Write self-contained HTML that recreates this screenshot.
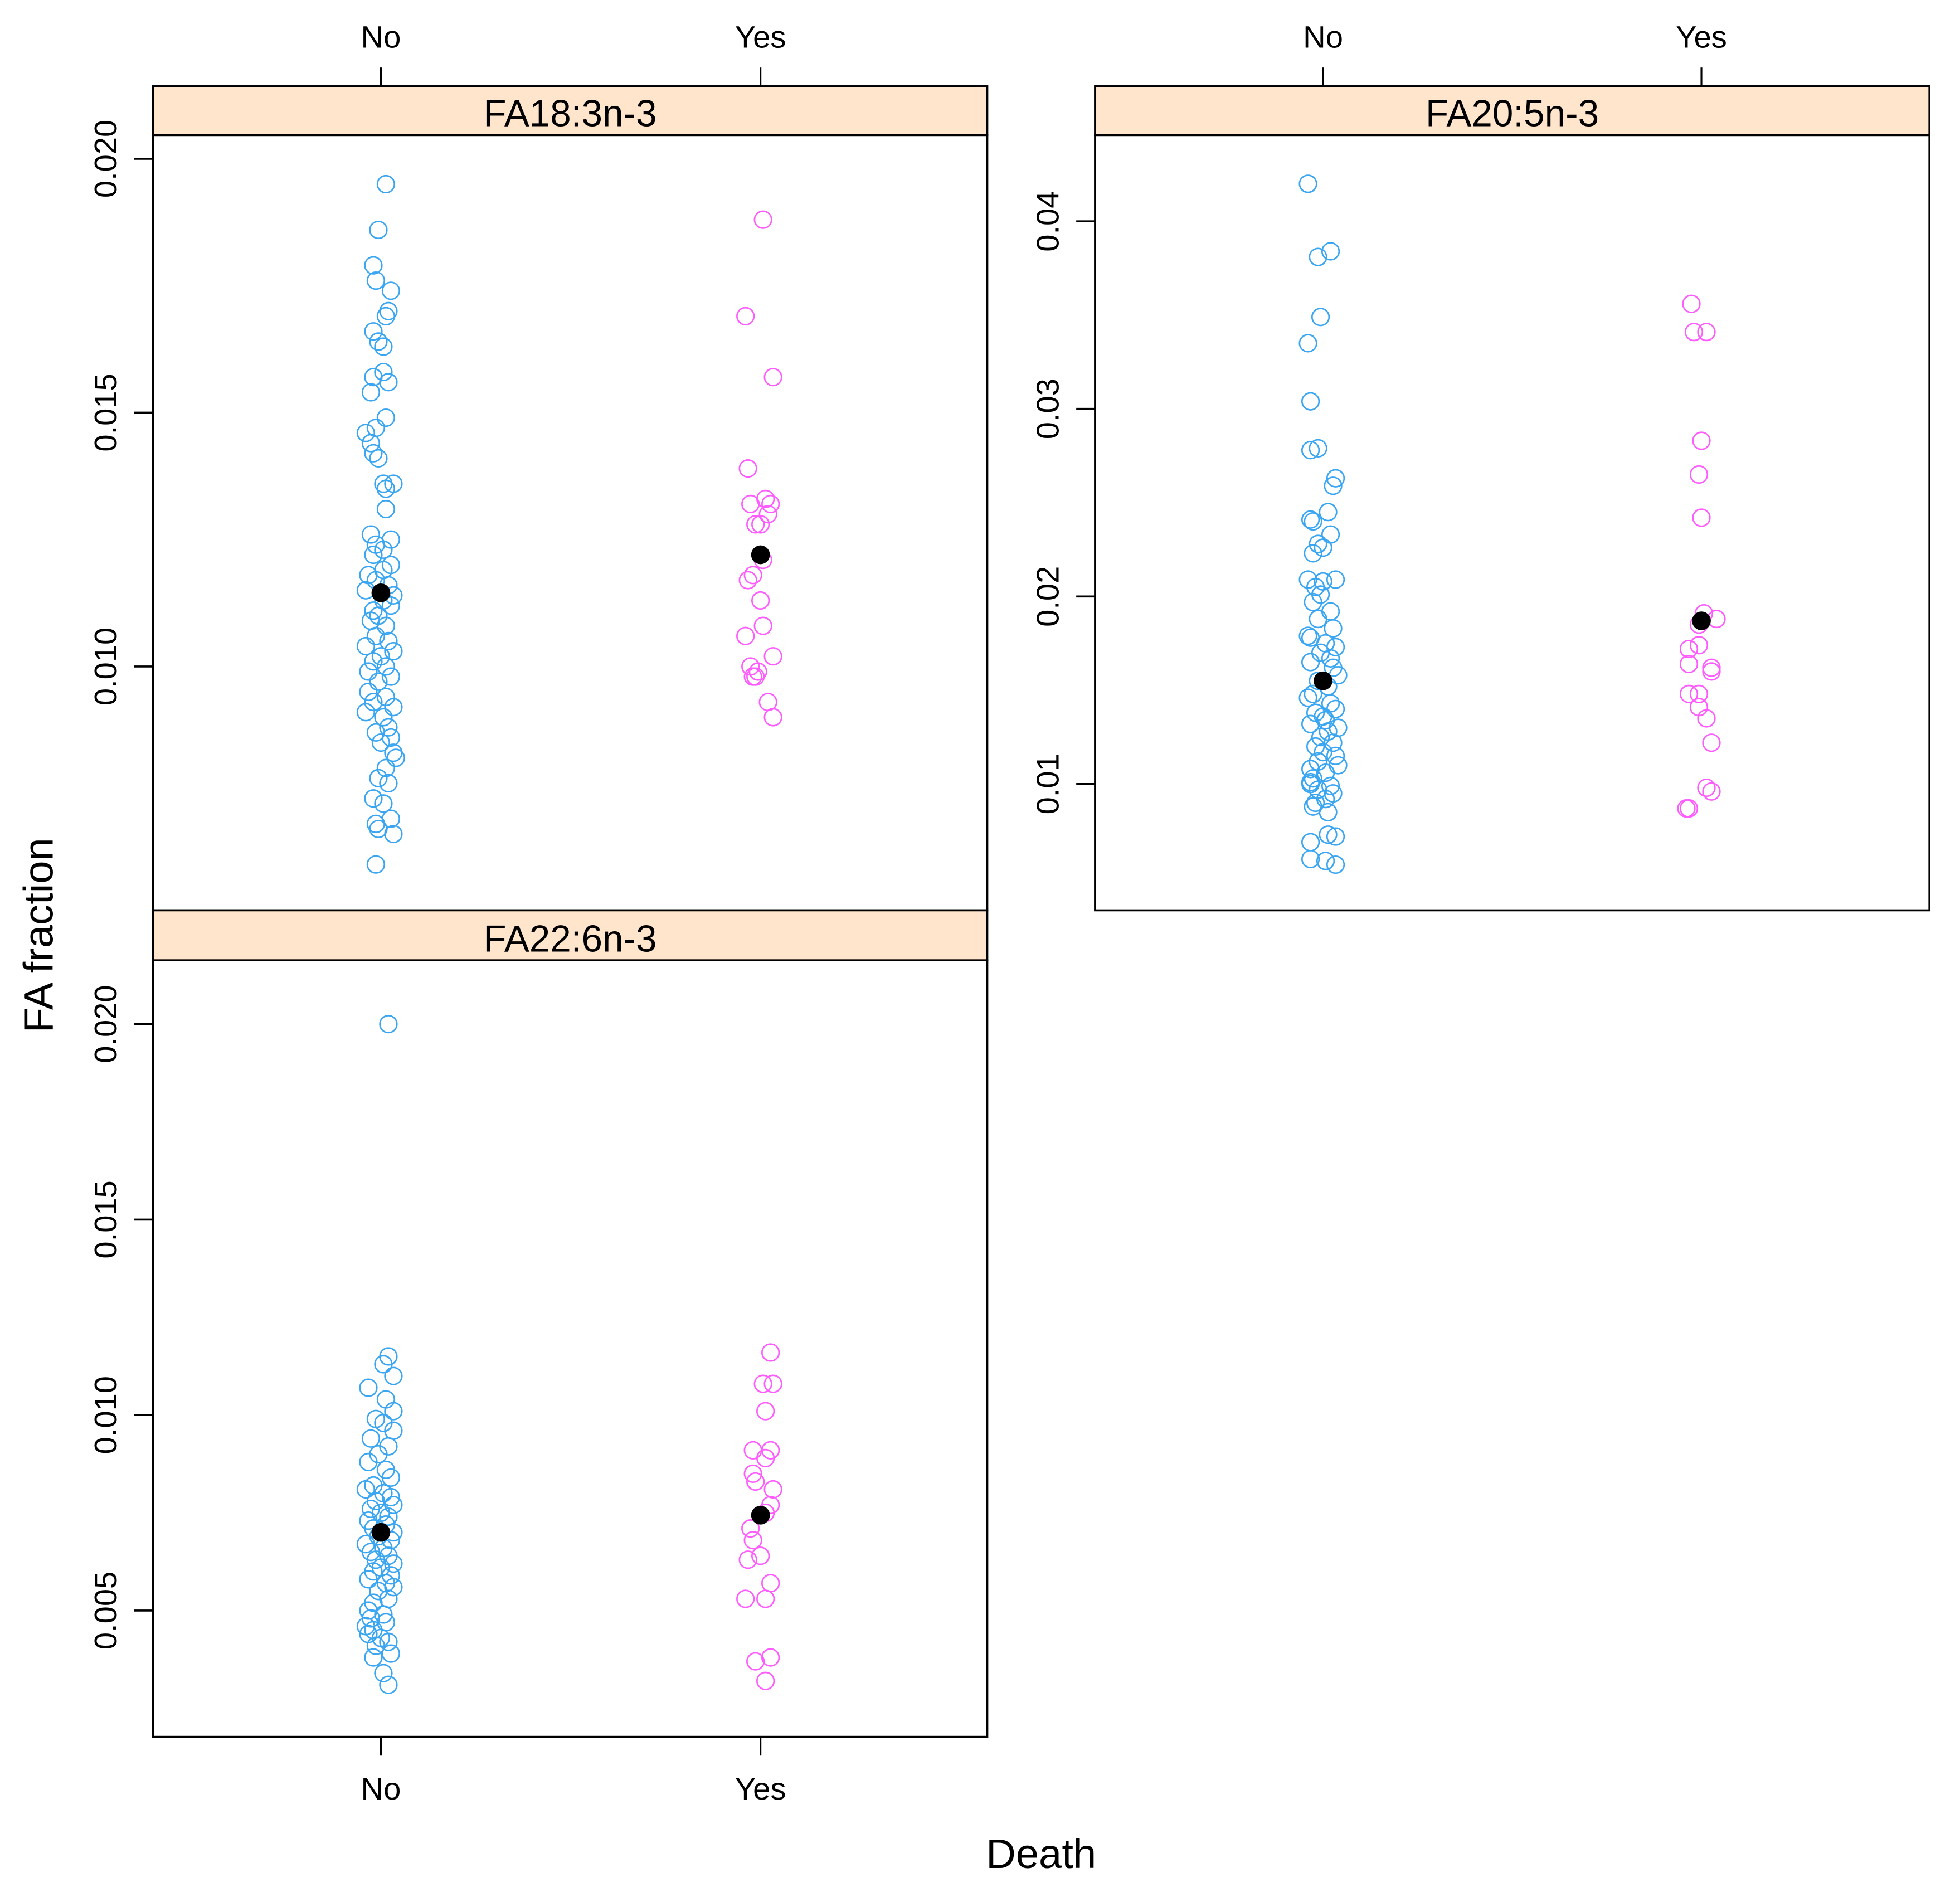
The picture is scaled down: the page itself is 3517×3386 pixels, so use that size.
<!DOCTYPE html>
<html><head><meta charset="utf-8"><style>
html,body{margin:0;padding:0;background:#fff;}
svg{display:block;}
text{font-family:"Liberation Sans",Arial,sans-serif;fill:#000;}
</style></head><body>
<svg id="chart" width="3517" height="3386" viewBox="0 0 1555 1497" preserveAspectRatio="none" xmlns="http://www.w3.org/2000/svg">
<g id="root" transform="scale(0.994,0.992)">
<text x="831" y="1494" font-size="33" text-anchor="middle">Death</text>
<text transform="translate(42,748) rotate(-90)" font-size="33" text-anchor="middle">FA fraction</text>
</g>
</svg>
<script>
const categories = ["No", "Yes"];
const panelTitles = ["FA18:3n-3", "FA20:5n-3", "FA22:6n-3"];
const ticks1 = [0.010, 0.015, 0.020];
const tickLabels1 = ["0.010", "0.015", "0.020"];
const ticks2 = [0.01, 0.02, 0.03, 0.04];
const tickLabels2 = ["0.01", "0.02", "0.03", "0.04"];
const ticks3 = [0.005, 0.010, 0.015, 0.020];
const tickLabels3 = ["0.005", "0.010", "0.015", "0.020"];
const p1No = [0.0195,0.0186,0.0179,0.0176,0.0174,0.0170,0.0169,0.0166,0.0164,0.0163,0.0158,0.0157,0.0156,0.0154,0.0149,0.0147,0.0146,0.0144,0.0142,0.0141,0.0136,0.0136,0.0135,0.0131,0.0126,0.0125,0.0124,0.0123,0.0122,0.0120,0.0119,0.0118,0.0117,0.0116,0.0115,0.0114,0.0113,0.0112,0.0111,0.0110,0.0109,0.0108,0.0106,0.0105,0.0104,0.0103,0.0102,0.0101,0.0100,0.0099,0.0098,0.0097,0.0095,0.0094,0.0093,0.0092,0.0091,0.0090,0.0088,0.0087,0.0086,0.0085,0.0083,0.0082,0.0080,0.0078,0.0077,0.0074,0.0073,0.0070,0.0069,0.0068,0.0067,0.0061];
const p1NoJit = [4,-2,-6,-4,8,6,4,-6,-2,2,2,-6,6,-8,4,-4,-12,-8,-6,-2,2,10,4,4,-8,8,-4,2,-6,8,2,-10,-4,6,-12,10,2,8,-6,-2,-8,4,-4,6,-12,10,0,-6,4,-10,8,-2,-10,4,-6,10,-12,2,6,-4,8,0,10,12,4,-2,6,-6,2,8,-4,-2,10,-4];
const p1Yes = [0.0188,0.0169,0.0157,0.0139,0.0133,0.0132,0.0132,0.0130,0.0128,0.0128,0.0121,0.0118,0.0117,0.0113,0.0108,0.0106,0.0102,0.0100,0.0099,0.0098,0.0098,0.0093,0.0090];
const p1YesJit = [2,-12,10,-10,4,8,-8,6,0,-4,2,-6,-10,0,2,-12,10,-8,-2,-6,-4,6,10];
const p2No = [0.042,0.0384,0.0381,0.0349,0.0335,0.0304,0.0279,0.0278,0.0263,0.0259,0.0245,0.0241,0.0240,0.0233,0.0228,0.0226,0.0223,0.0209,0.0209,0.0208,0.0205,0.0201,0.0197,0.0192,0.0188,0.0183,0.0179,0.0178,0.0175,0.0173,0.0170,0.0167,0.0165,0.0162,0.0158,0.0155,0.0152,0.0148,0.0146,0.0143,0.0140,0.0138,0.0136,0.0134,0.0132,0.0130,0.0128,0.0125,0.0122,0.0120,0.0117,0.0115,0.0112,0.0110,0.0108,0.0106,0.0103,0.0101,0.0100,0.0099,0.0097,0.0095,0.0092,0.0090,0.0088,0.0085,0.0073,0.0072,0.0069,0.0060,0.0059,0.0057];
const p2NoJit = [-12,6,-4,-2,-12,-10,-4,-10,10,8,4,-10,-8,6,-4,0,-8,-12,10,0,-6,-2,-8,6,-4,8,-12,-10,2,10,-2,6,-10,8,12,-4,4,-8,-12,6,10,-6,0,2,-10,12,4,-2,8,-6,0,10,-4,12,-10,2,-8,-10,-10,6,-4,8,2,-6,-8,4,4,10,-10,-10,2,10];
const p2Yes = [0.0356,0.0341,0.0341,0.0283,0.0265,0.0242,0.0191,0.0188,0.0185,0.0174,0.0172,0.0164,0.0162,0.0160,0.0148,0.0148,0.0141,0.0135,0.0122,0.0098,0.0096,0.0087,0.0087];
const p2YesJit = [-8,-6,4,0,-2,0,2,12,-2,-2,-10,-10,8,8,-10,-2,-2,4,8,4,8,-12,-10];
const p3No = [0.0200,0.0115,0.0113,0.0110,0.0107,0.0104,0.0101,0.0099,0.0098,0.0096,0.0094,0.0092,0.0090,0.0088,0.0086,0.0084,0.0082,0.0081,0.0080,0.0079,0.0078,0.0077,0.0076,0.0075,0.0074,0.0073,0.0072,0.0071,0.0070,0.0069,0.0068,0.0067,0.0066,0.0065,0.0064,0.0063,0.0062,0.0061,0.0060,0.0059,0.0058,0.0057,0.0056,0.0055,0.0053,0.0052,0.0050,0.0049,0.0048,0.0047,0.0046,0.0045,0.0044,0.0043,0.0042,0.0041,0.0039,0.0038,0.0034,0.0031];
const p3NoJit = [6,6,2,10,-10,4,10,-4,2,10,-8,6,-2,-10,4,8,-6,-12,2,8,-4,10,-8,0,6,-10,4,-6,10,-2,8,-12,2,-8,6,-4,10,0,-6,8,-10,4,10,-2,6,-6,-10,2,-8,4,-12,-6,-10,0,6,-4,8,-6,2,6];
const p3Yes = [0.0116,0.0108,0.0108,0.0101,0.0091,0.0091,0.0089,0.0085,0.0083,0.0081,0.0077,0.0075,0.0071,0.0068,0.0063,0.0064,0.0057,0.0053,0.0053,0.0038,0.0037,0.0032];
const p3YesJit = [8,2,10,4,-6,8,4,-6,-4,10,8,4,-8,-6,-10,0,8,-12,4,8,-4,4];
const means1 = [0.01145, 0.0122];
const means2 = [0.0155, 0.0187];
const means3 = [0.0070, 0.00744];

const NS = "http://www.w3.org/2000/svg";
const root = document.getElementById("root");
function mk(tag, attrs, parent) {
  const e = document.createElementNS(NS, tag);
  for (const k in attrs) e.setAttribute(k, attrs[k]);
  (parent || root).appendChild(e);
  return e;
}
const BLUE = "#3aa6f2", PINK = "#ff5cff";
const panels = [
  {x0:122,x1:788,sTop:69,top:108,bot:728,cat0:304,cat1:607,yRef:127,vRef:0.020,k:40600,ticks:ticks1,labels:tickLabels1,topAxis:true,botAxis:false,
   title:panelTitles[0],sets:[[p1No,p1NoJit,BLUE],[p1Yes,p1YesJit,PINK]],means:means1},
  {x0:874,x1:1540,sTop:69,top:108,bot:728,cat0:1056,cat1:1358,yRef:177,vRef:0.04,k:15000,ticks:ticks2,labels:tickLabels2,topAxis:true,botAxis:false,
   title:panelTitles[1],sets:[[p2No,p2NoJit,BLUE],[p2Yes,p2YesJit,PINK]],means:means2},
  {x0:122,x1:788,sTop:728,top:768,bot:1389,cat0:304,cat1:607,yRef:819,vRef:0.020,k:31267,ticks:ticks3,labels:tickLabels3,topAxis:false,botAxis:true,
   title:panelTitles[2],sets:[[p3No,p3NoJit,BLUE],[p3Yes,p3YesJit,PINK]],means:means3}
];
panels.forEach((p, pi) => {
  const g = mk("g", {});
  
  
  const yS = v => p.yRef + (p.vRef - v) * p.k;
  const xS = (c, j) => (c === 0 ? p.cat0 : p.cat1) + j * 1.0;
  const strip = mk("rect", {x:p.x0, y:p.sTop, width:p.x1-p.x0, height:p.top-p.sTop, fill:"#ffe5cc", stroke:"#000", "stroke-width":1.6}, g);
  
  
  const st = mk("text", {x:(p.x0+p.x1)/2, y:p.top-7, "font-size":30, "text-anchor":"middle"}, g);
  st.textContent = p.title;
  
  
  const frame = mk("rect", {x:p.x0, y:p.top, width:p.x1-p.x0, height:p.bot-p.top, fill:"none", stroke:"#000", "stroke-width":1.6}, g);
  
  
  p.ticks.forEach((t, i) => {
    const y = yS(t);
    const tk = mk("line", {x1:p.x0-15, x2:p.x0, y1:y, y2:y, stroke:"#000", "stroke-width":1.6}, g);
    
    
    const tl = mk("text", {transform:`translate(${p.x0-29},${y}) rotate(-90)`, "font-size":25, "text-anchor":"middle"}, g);
    tl.textContent = p.labels[i];
    
    
  });
  categories.forEach((c, ci) => {
    const x = ci === 0 ? p.cat0 : p.cat1;
    if (p.topAxis) {
      const tk = mk("line", {x1:x, x2:x, y1:p.sTop-15, y2:p.sTop, stroke:"#000", "stroke-width":1.4}, g);
      
      
      const tl = mk("text", {x:x, y:p.sTop-31, "font-size":25, "text-anchor":"middle"}, g);
      tl.textContent = c;
      
      
    }
    if (p.botAxis) {
      const tk = mk("line", {x1:x, x2:x, y1:p.bot, y2:p.bot+15, stroke:"#000", "stroke-width":1.4}, g);
      
      
      const tl = mk("text", {x:x, y:p.bot+50, "font-size":25, "text-anchor":"middle"}, g);
      tl.textContent = c;
      
      
    }
  });
  p.sets.forEach((s, ci) => {
    const [vals, jit, col] = s;
    vals.forEach((v, i) => {
      const pt = mk("circle", {cx:xS(ci, jit[i]), cy:yS(v), r:6.8, fill:"none", stroke:col, "stroke-width":1.2}, g);
      
      
    });
  });
  p.means.forEach((m, ci) => {
    const d = mk("circle", {cx:xS(ci, 0), cy:yS(m), r:7.5, fill:"#000"}, g);
    
    
  });
});
</script>
</body></html>
